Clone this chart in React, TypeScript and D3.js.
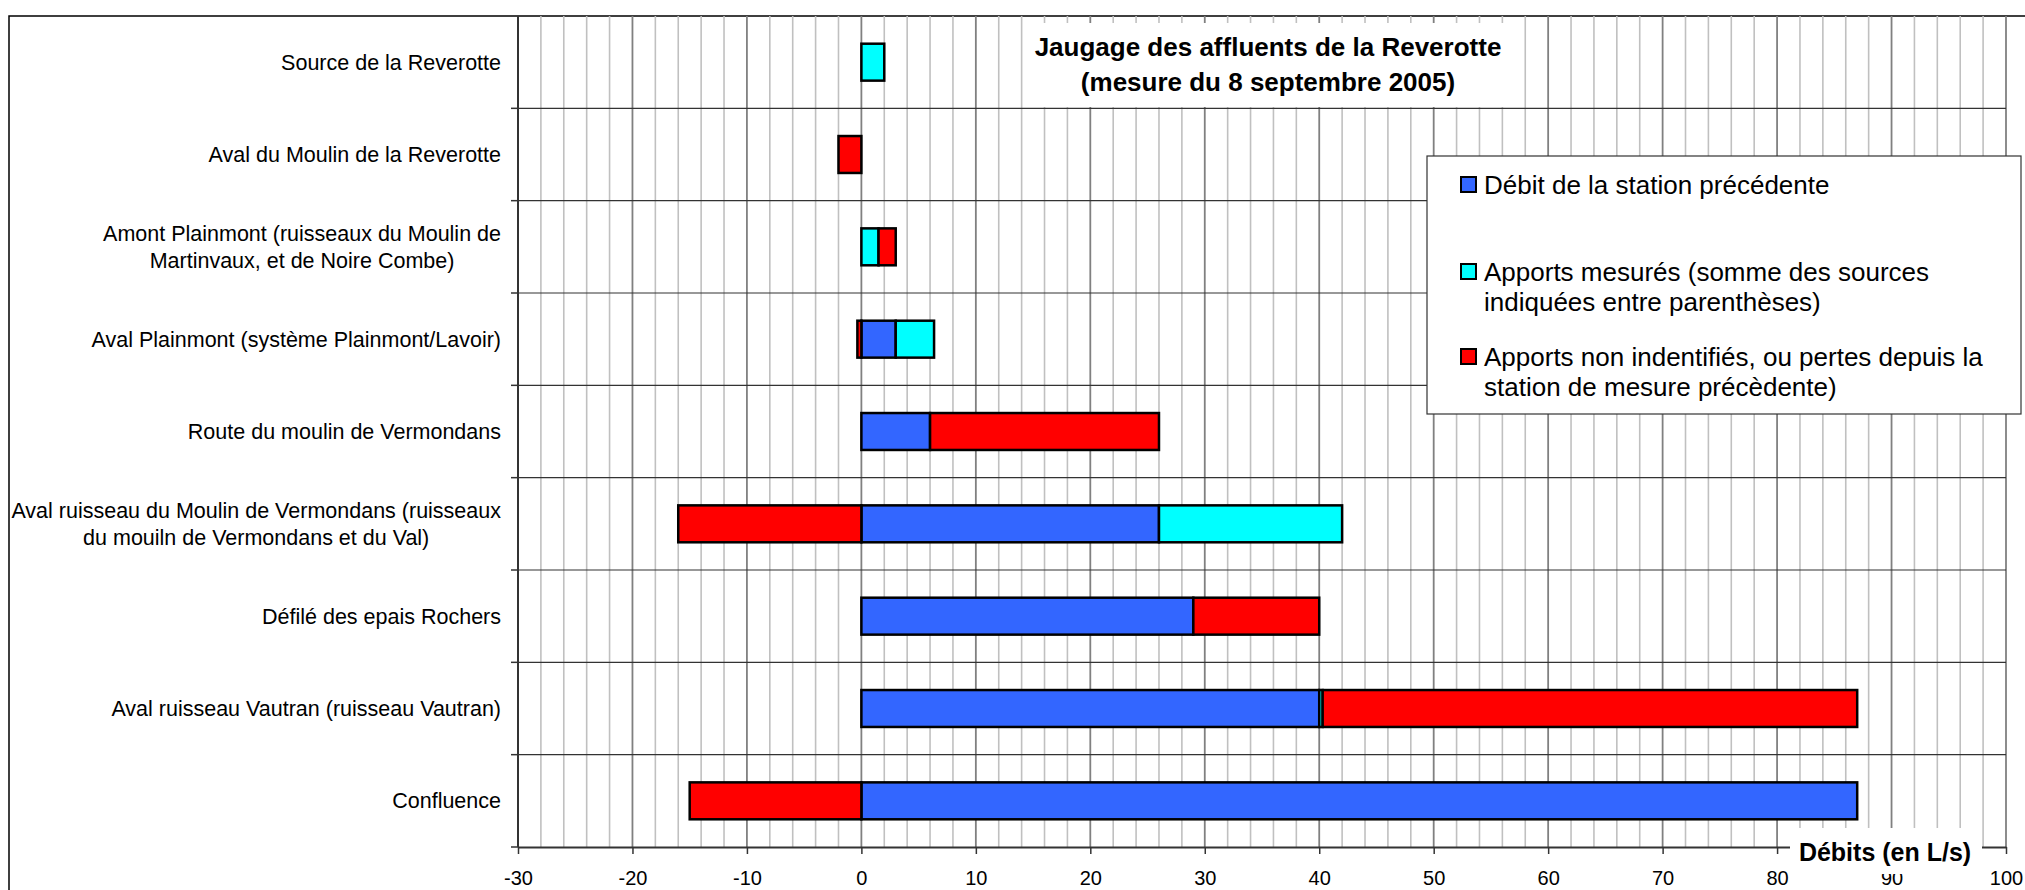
import React, { useEffect, useRef } from 'react';
import * as d3 from 'd3';

// stations (top to bottom), labels split on the original line breaks
const stations = [
  ['Source de la Reverotte'],
  ['Aval du Moulin de la Reverotte'],
  ['Amont Plainmont (ruisseaux du Moulin de', 'Martinvaux, et de Noire Combe)'],
  ['Aval Plainmont (système Plainmont/Lavoir)'],
  ['Route du moulin de Vermondans'],
  ['Aval ruisseau du Moulin de Vermondans (ruisseaux', 'du mouiln de Vermondans et du Val)'],
  ['Défilé des epais Rochers'],
  ['Aval ruisseau Vautran (ruisseau Vautran)'],
  ['Confluence'],
];

// L/s
const debitPrecedent = [0, 0, 0, 3, 6, 26, 29, 40, 87];
const apportsMesures = [2, 0, 1.5, 3.35, 0, 16, 0, 0.3, 0];
const apportsNonIdentifies = [0, -2, 1.5, -0.35, 20, -16, 11, 46.7, -15];

const xTicks = [-30, -20, -10, 0, 10, 20, 30, 40, 50, 60, 70, 80, 90, 100];

const seriesNames = [
  ['Débit de la station précédente'],
  ['Apports mesurés (somme des sources', 'indiquées entre parenthèses)'],
  ['Apports non indentifiés, ou pertes depuis la', 'station de mesure précèdente)'],
];
const seriesColors = ['#3366ff', '#00ffff', '#ff0000'];

const titleLines = ['Jaugage des affluents de la Reverotte', '(mesure du 8 septembre 2005)'];
const xTitle = 'Débits (en L/s)';

const FONT = '"Liberation Sans", Arial, Helvetica, sans-serif';

const App: React.FC = () => {
  const svgRef = useRef<SVGSVGElement>(null);

  useEffect(() => {
    if (svgRef && svgRef.current) drawChart(svgRef.current);
  }, [svgRef]);

  return (
    <svg
      ref={svgRef}
      width={2025}
      height={890}
      style={{ position: 'absolute', left: 0, top: 0, background: '#fff' }}
    />
  );
};

const drawChart = (node: SVGSVGElement) => {
  const svg = d3.select(node);
  svg.selectAll('*').remove();
  svg.style('font-family', FONT);

  const plot = { left: 518, right: 2006, top: 16, bottom: 847 };

  const keys = stations.map((s) => s.join(' '));
  const xScale = d3.scaleLinear().domain([-30, 100]).range([plot.left, plot.right]);
  const yScale = d3.scaleBand().domain(keys).range([plot.top, plot.bottom]).paddingInner(0);
  const bw = yScale.bandwidth();

  // outer chart frame (runs off the picture right and bottom)
  svg
    .append('rect')
    .attr('x', 9)
    .attr('y', 16)
    .attr('width', 2040)
    .attr('height', 900)
    .attr('fill', '#fff')
    .attr('stroke', '#000')
    .attr('stroke-width', 1.5);

  // vertical grid
  const minor = d3.range(-30, 101, 2).filter((v) => v % 10 !== 0);
  svg
    .append('g')
    .selectAll('line')
    .data(minor)
    .enter()
    .append('line')
    .attr('x1', (d) => xScale(d))
    .attr('x2', (d) => xScale(d))
    .attr('y1', plot.top)
    .attr('y2', plot.bottom)
    .attr('stroke', '#c0c0c0')
    .attr('stroke-width', 1.6);
  svg
    .append('g')
    .selectAll('line')
    .data(xTicks)
    .enter()
    .append('line')
    .attr('x1', (d) => xScale(d))
    .attr('x2', (d) => xScale(d))
    .attr('y1', plot.top)
    .attr('y2', plot.bottom)
    .attr('stroke', '#808080')
    .attr('stroke-width', 1.8);

  // horizontal category separators + small ticks on the left
  const bounds = keys.map((k) => yScale(k) || 0).concat([plot.bottom]);
  svg
    .append('g')
    .selectAll('line')
    .data(bounds.slice(1, -1))
    .enter()
    .append('line')
    .attr('x1', plot.left)
    .attr('x2', plot.right)
    .attr('y1', (d) => d)
    .attr('y2', (d) => d)
    .attr('stroke', '#333')
    .attr('stroke-width', 1.2);
  svg
    .append('g')
    .selectAll('line')
    .data(bounds.slice(1))
    .enter()
    .append('line')
    .attr('x1', plot.left - 7)
    .attr('x2', plot.left)
    .attr('y1', (d) => d)
    .attr('y2', (d) => d)
    .attr('stroke', '#333')
    .attr('stroke-width', 1.5);

  // title box (white, no border)
  svg.append('rect').attr('x', 1027).attr('y', 23).attr('width', 486).attr('height', 84).attr('fill', '#fff');
  const titleG = svg
    .append('text')
    .attr('text-anchor', 'middle')
    .style('font-size', '26px')
    .style('font-weight', 'bold')
    .attr('fill', '#000');
  titleLines.forEach((t, i) => {
    titleG
      .append('tspan')
      .attr('x', 1268)
      .attr('y', 56 + i * 35)
      .text(t);
  });

  // bars: stacked segments per station
  type Seg = { key: string; x0: number; x1: number; color: string };
  const segs: Seg[] = [];
  keys.forEach((k, i) => {
    const b = debitPrecedent[i];
    const c = apportsMesures[i];
    const r = apportsNonIdentifies[i];
    if (b) segs.push({ key: k, x0: 0, x1: b, color: seriesColors[0] });
    if (c) segs.push({ key: k, x0: b, x1: b + c, color: seriesColors[1] });
    if (r > 0) segs.push({ key: k, x0: b + c, x1: b + c + r, color: seriesColors[2] });
    if (r < 0) segs.push({ key: k, x0: r, x1: 0, color: seriesColors[2] });
  });
  const barH = bw * 0.4;
  svg
    .append('g')
    .selectAll('rect')
    .data(segs)
    .enter()
    .append('rect')
    .attr('x', (d) => xScale(Math.min(d.x0, d.x1)))
    .attr('width', (d) => Math.abs(xScale(d.x1) - xScale(d.x0)))
    .attr('y', (d) => (yScale(d.key) || 0) + (bw - barH) / 2)
    .attr('height', barH)
    .attr('fill', (d) => d.color)
    .attr('stroke', '#000')
    .attr('stroke-width', 2.5);

  // left axis line
  svg
    .append('line')
    .attr('x1', plot.left)
    .attr('x2', plot.left)
    .attr('y1', plot.top)
    .attr('y2', plot.bottom)
    .attr('stroke', '#333')
    .attr('stroke-width', 2);

  // bottom axis (plain hyphen minus, as in the original)
  const xAxisG = svg.append('g').attr('transform', `translate(0, ${plot.bottom})`);
  xAxisG.call(
    d3
      .axisBottom(xScale)
      .tickValues(xTicks)
      .tickSize(7)
      .tickSizeOuter(0)
      .tickFormat((d) => String(d))
  );
  xAxisG.select('.domain').attr('stroke', '#333').attr('stroke-width', 2);
  xAxisG.selectAll('.tick line').attr('stroke', '#333').attr('stroke-width', 1.5);
  xAxisG
    .selectAll('.tick text')
    .attr('y', 31)
    .attr('dy', '0.35em')
    .style('font-size', '20px')
    .style('font-family', FONT)
    .attr('fill', '#000');

  // category labels, centred block right-aligned to the axis
  const labelRight = 501;
  stations.forEach((lines, i) => {
    const cy = (yScale(keys[i]) || 0) + bw / 2;
    const t = svg
      .append('text')
      .style('font-size', '21.5px')
      .attr('fill', '#000')
      .attr('text-anchor', 'middle');
    const spans = lines.map((line, j) =>
      t
        .append('tspan')
        .attr('y', cy + (j - (lines.length - 1) / 2) * 27)
        .attr('dy', '0.35em')
        .text(line)
    );
    const widths = spans.map((s) => (s.node() as SVGTSpanElement).getComputedTextLength());
    const maxW = d3.max(widths) || 0;
    spans.forEach((s) => s.attr('x', labelRight - maxW / 2));
  });

  // legend
  const lg = svg.append('g');
  lg.append('rect')
    .attr('x', 1427)
    .attr('y', 156)
    .attr('width', 594)
    .attr('height', 258)
    .attr('fill', '#fff')
    .attr('stroke', '#333')
    .attr('stroke-width', 1.2);
  const itemTop = [185, 272, 357];
  seriesNames.forEach((lines, i) => {
    lg.append('rect')
      .attr('x', 1461)
      .attr('y', itemTop[i] - 8)
      .attr('width', 15)
      .attr('height', 15)
      .attr('fill', seriesColors[i])
      .attr('stroke', '#000')
      .attr('stroke-width', 2);
    const t = lg.append('text').style('font-size', '26px').attr('fill', '#000');
    lines.forEach((line, j) => {
      t.append('tspan')
        .attr('x', 1484)
        .attr('y', itemTop[i] + j * 30)
        .attr('dy', '0.35em')
        .text(line);
    });
  });

  // x axis title on a white patch
  svg.append('rect').attr('x', 1790).attr('y', 828).attr('width', 192).attr('height', 46).attr('fill', '#fff');
  svg
    .append('text')
    .attr('x', 1885)
    .attr('y', 852)
    .attr('dy', '0.35em')
    .attr('text-anchor', 'middle')
    .style('font-size', '25px')
    .style('font-weight', 'bold')
    .attr('fill', '#000')
    .text(xTitle);
};

export default App;
